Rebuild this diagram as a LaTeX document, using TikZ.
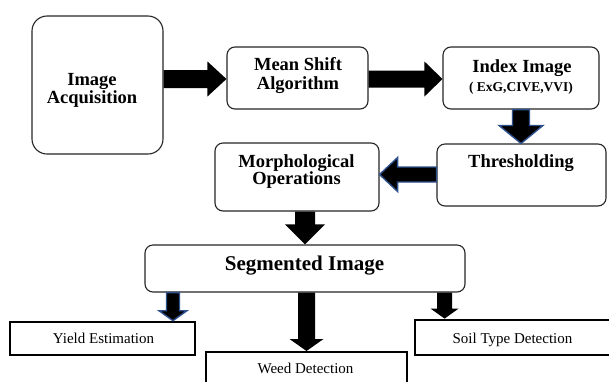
\documentclass[tikz,border=0pt]{standalone}
\usepackage{fontspec}
\setmainfont{Liberation Serif}
\usetikzlibrary{calc}
\definecolor{arrowblue}{RGB}{47,82,143}
\tikzset{
  box/.style={draw=black!85, line width=1.1pt, rounded corners=8pt, inner sep=0pt},
  flatbox/.style={draw=black, inner sep=0pt},
  bt/.style={font=\bfseries\fontsize{18.5}{20}\selectfont, inner sep=0pt, anchor=base},
  st/.style={font=\bfseries\fontsize{13.5}{15}\selectfont, inner sep=0pt, anchor=base},
  segt/.style={font=\bfseries\fontsize{21}{23}\selectfont, inner sep=0pt, anchor=base},
  rt/.style={font=\fontsize{15}{17}\selectfont, inner sep=0pt, anchor=base},
  fat/.style args={#1/#2/#3}{to path={
    ($(\tikztostart)!#1!90:(\tikztotarget)$)
    -- ($($(\tikztotarget)!#3!(\tikztostart)$)!#1!-90:(\tikztostart)$)
    -- ($($(\tikztotarget)!#3!(\tikztostart)$)!#2!-90:(\tikztostart)$)
    -- (\tikztotarget)
    -- ($($(\tikztotarget)!#3!(\tikztostart)$)!#2!90:(\tikztostart)$)
    -- ($($(\tikztotarget)!#3!(\tikztostart)$)!#1!90:(\tikztostart)$)
    -- ($(\tikztostart)!#1!-90:(\tikztotarget)$) -- cycle}},
  blk/.style={fill=black},
  blu/.style={fill=black, draw=arrowblue, line width=1.4pt, line join=miter},
}
\begin{document}
\begin{tikzpicture}[x=1pt, y=-1pt]
\useasboundingbox[fill=white] (0,0) rectangle (609,381);
% boxes
\node[box, rounded corners=15pt, minimum width=131pt, minimum height=138pt] (acq) at (97.5,85) {};
\node[box, minimum width=141pt, minimum height=62pt] (ms) at (297.5,78) {};
\node[box, minimum width=156pt, minimum height=62pt] (idx) at (521,78) {};
\node[box, minimum width=169pt, minimum height=62pt] (thr) at (521.5,175) {};
\node[box, minimum width=164pt, minimum height=68pt] (mor) at (297,177) {};
\node[box, minimum width=320pt, minimum height=47pt] (seg) at (305,268.5) {};
\node[flatbox, line width=2.6pt, minimum width=185pt, minimum height=33pt] (yld) at (102.5,338.5) {};
\node[flatbox, line width=2pt, minimum width=201pt, minimum height=45pt] (wed) at (306.5,374.5) {};
\node[flatbox, line width=2.8pt, minimum width=197pt, minimum height=35pt] (soil) at (513.5,337.5) {};
% texts
\node[bt] (acq1) at (92,85) {Image};
\node[bt] (acq2) at (92,103) {Acquisition};
\node[bt] (ms1) at (298,70) {Mean Shift};
\node[bt] (ms2) at (298,89) {Algorithm};
\node[bt] (idx1) at (522,72) {Index Image};
\node[st] (idx2) at (521,91) {( ExG,CIVE,VVI)};
\node[bt] (thr1) at (521,167) {Thresholding};
\node[bt] (mor1) at (296.5,167) {Morphological};
\node[bt] (mor2) at (296.5,184) {Operations};
\node[segt] (seg1) at (304.5,270) {Segmented Image};
\node[rt] (yld1) at (103.5,343) {Yield Estimation};
\node[rt] (wed1) at (305.5,373) {Weed Detection};
\node[rt] (soil1) at (512.5,343) {Soil Type Detection};
% connectors
\coordinate (a1s) at ($(acq.east |- ms.west)+(0,1)$);
\coordinate (a1e) at (ms.west |- a1s);
\fill[blk, fat=9pt/17.5pt/19pt] (a1s) to (a1e);
\coordinate (a2s) at ($(ms.east)+(0,1)$);
\coordinate (a2e) at (idx.west |- a2s);
\fill[blk, fat=8.5pt/17.5pt/18pt] (a2s) to (a2e);
\coordinate (a3e) at (idx.south |- thr.north);
\path[blu, fat=8.5pt/22pt/18pt] (idx.south) to (a3e);
\coordinate (a4s) at ($(thr.west)+(0,-0.5)$);
\coordinate (a4e) at (mor.east |- a4s);
\path[blu, fat=7.5pt/17pt/18pt] (a4s) to (a4e);
\coordinate (a5s) at ($(mor.south)+(8,0)$);
\coordinate (a5e) at (a5s |- seg.north);
\fill[blk, fat=10pt/20pt/20pt] (a5s) to (a5e);
\coordinate (a6s) at ($(seg.south west)+(28.5,0)$);
\coordinate (a6e) at (a6s |- yld.north);
\path[blu, fat=6.5pt/14pt/10pt] (a6s) to (a6e);
\coordinate (a7s) at (wed.north |- seg.south);
\fill[blk, fat=8.5pt/17pt/12pt] (a7s) to (wed.north);
\coordinate (a8s) at ($(seg.south east)+(-21,0)$);
\coordinate (a8e) at (a8s |- soil.north);
\fill[blk, fat=7.5pt/14pt/10pt] (a8s) to (a8e);
\end{tikzpicture}
\end{document}
